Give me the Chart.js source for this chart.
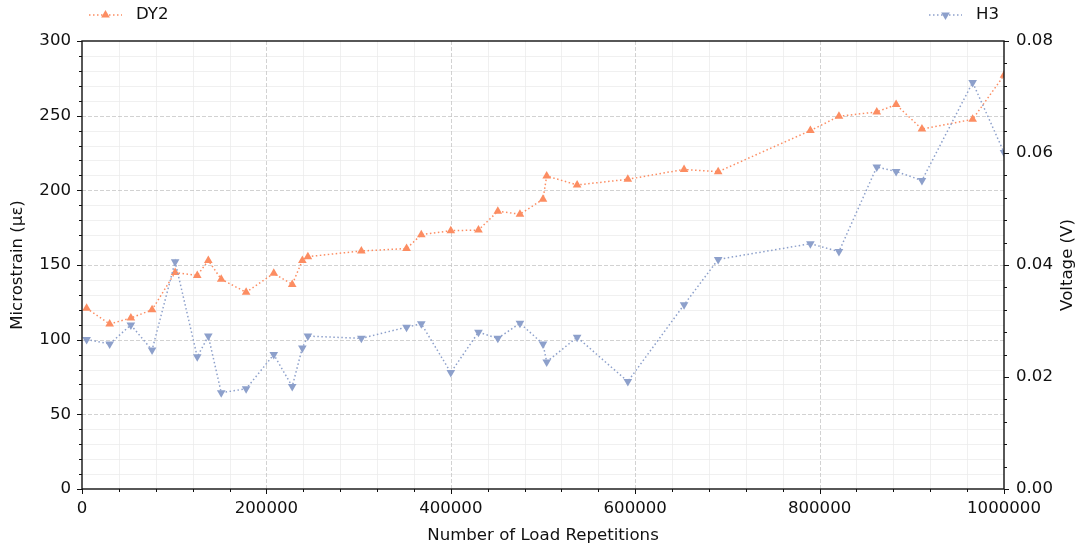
<!DOCTYPE html>
<html lang="en">
<head>
<meta charset="UTF-8">
<title>Microstrain and Voltage vs Load Repetitions</title>
<script src="https://cdn.jsdelivr.net/npm/chart.js"></script>
<style>
  html, body { margin: 0; padding: 0; background: #fff; }
  #wrap { width: 1078px; height: 548px; }
</style>
</head>
<body>
<div id="wrap"><canvas id="loadChart" width="1078" height="548"></canvas></div>
<script>
// Data
const repetitions = [5000, 30000, 53000, 76000, 101000, 125000, 137000, 151000, 178000, 208000,
  228000, 239000, 245000, 303000, 352000, 368000, 400000, 430000, 451000, 475000,
  500000, 504000, 537000, 592000, 653000, 690000, 790000, 821000, 862000, 883000,
  911000, 966000, 1000000];
const dy2Strain = [121, 110.5, 114.5, 120, 145, 143, 153, 140.5, 131.7, 144.4,
  137, 153, 155.6, 159.4, 161, 170.3, 173, 173.4, 186, 184,
  194, 209.6, 203.6, 207.4, 214, 212.5, 240, 249.6, 252.5, 257.4,
  241, 247.6, 277];
const h3Voltage = [0.0267, 0.0259, 0.0293, 0.0248, 0.0406, 0.0236, 0.0273, 0.0172, 0.0179, 0.0240,
  0.0183, 0.0252, 0.0273, 0.0269, 0.0289, 0.0295, 0.0208, 0.0280, 0.0269, 0.0296,
  0.0259, 0.0227, 0.0271, 0.0192, 0.0329, 0.0410, 0.0438, 0.0424, 0.0575, 0.0567,
  0.0551, 0.0726, 0.0601];

const ORANGE = '#fc8d62';
const BLUE = '#8da0cb';
const TEXT = '#111';
const FONT = { family: '"DejaVu Sans", sans-serif', size: 16.6 };

// grid, tick marks, frame, legends and the right-hand title
const decorations = {
  id: 'decorations',
  beforeDatasetsDraw(chart) {
    const { ctx, chartArea: a, scales: { x, y } } = chart;
    ctx.save();
    ctx.lineWidth = 0.8;
    // minor grid
    ctx.strokeStyle = '#ececec';
    for (let i = 0; i <= 25; i++) {
      if (i % 5 === 0) continue;
      const px = Math.round(x.getPixelForValue(i * 40000)) + 0.5;
      ctx.beginPath(); ctx.moveTo(px, a.top); ctx.lineTo(px, a.bottom); ctx.stroke();
    }
    for (let i = 0; i <= 30; i++) {
      if (i % 5 === 0) continue;
      const py = Math.round(y.getPixelForValue(i * 10)) + 0.5;
      ctx.beginPath(); ctx.moveTo(a.left, py); ctx.lineTo(a.right, py); ctx.stroke();
    }
    // major grid, dashed
    ctx.strokeStyle = '#c6c6c6';
    ctx.setLineDash([4, 2]);
    for (let i = 1; i < 5; i++) {
      const px = Math.round(x.getPixelForValue(i * 200000)) + 0.5;
      ctx.beginPath(); ctx.moveTo(px, a.top); ctx.lineTo(px, a.bottom); ctx.stroke();
    }
    for (let i = 1; i < 6; i++) {
      const py = Math.round(y.getPixelForValue(i * 50)) + 0.5;
      ctx.beginPath(); ctx.moveTo(a.left, py); ctx.lineTo(a.right, py); ctx.stroke();
    }
    ctx.restore();
  },
  afterDraw(chart) {
    const { ctx, chartArea: a, scales: { x, y, y1 } } = chart;
    ctx.save();
    // frame
    ctx.strokeStyle = '#111';
    ctx.lineWidth = 1.4;
    ctx.strokeRect(a.left, a.top, a.right - a.left, a.bottom - a.top);
    // tick marks
    ctx.lineWidth = 1;
    for (let i = 0; i <= 25; i++) {
      const px = Math.round(x.getPixelForValue(i * 40000)) + 0.5;
      const len = i % 5 === 0 ? 5 : 3;
      ctx.beginPath(); ctx.moveTo(px, a.bottom); ctx.lineTo(px, a.bottom + len); ctx.stroke();
    }
    for (let i = 0; i <= 30; i++) {
      const py = Math.round(y.getPixelForValue(i * 10)) + 0.5;
      const len = i % 5 === 0 ? 5 : 3;
      ctx.beginPath(); ctx.moveTo(a.left, py); ctx.lineTo(a.left - len, py); ctx.stroke();
    }
    for (let i = 0; i <= 20; i++) {
      const py = Math.round(y1.getPixelForValue(i * 0.004)) + 0.5;
      const len = i % 5 === 0 ? 5 : 3;
      ctx.beginPath(); ctx.moveTo(a.right, py); ctx.lineTo(a.right + len, py); ctx.stroke();
    }
    // right axis title, reading upwards
    ctx.fillStyle = TEXT;
    ctx.font = '16.6px "DejaVu Sans", sans-serif';
    ctx.textAlign = 'center';
    ctx.textBaseline = 'middle';
    ctx.save();
    ctx.translate(1068, (a.top + a.bottom) / 2);
    ctx.rotate(-Math.PI / 2);
    ctx.fillText('Voltage (V)', 0, 0);
    ctx.restore();
    // legends
    const legendItem = (x0, label, color, rot) => {
      const ly = 15;
      ctx.strokeStyle = color;
      ctx.lineWidth = 1.5;
      ctx.setLineDash([1.5, 2.5]);
      ctx.beginPath(); ctx.moveTo(x0, ly); ctx.lineTo(x0 + 33, ly); ctx.stroke();
      ctx.setLineDash([]);
      ctx.fillStyle = color;
      ctx.save();
      ctx.translate(x0 + 16.5, ly);
      ctx.rotate(rot);
      ctx.beginPath();
      for (let k = 0; k < 3; k++) {
        const ang = k * 2 * Math.PI / 3;
        ctx.lineTo(Math.sin(ang) * 5, -Math.cos(ang) * 5);
      }
      ctx.closePath(); ctx.fill();
      ctx.restore();
      ctx.fillStyle = TEXT;
      ctx.textAlign = 'left';
      ctx.fillText(label, x0 + 47, ly);
    };
    legendItem(89, 'DY2', ORANGE, 0);
    legendItem(929, 'H3', BLUE, Math.PI);
    ctx.restore();
  }
};

const ctx = document.getElementById('loadChart').getContext('2d');
const loadChart = new Chart(ctx, {
  type: 'line',
  data: {
    datasets: [
      {
        label: 'H3',
        data: repetitions.map((r, i) => ({ x: r, y: h3Voltage[i] })),
        yAxisID: 'y1',
        borderColor: BLUE,
        backgroundColor: BLUE,
        borderWidth: 1.5,
        borderDash: [1.5, 2.5],
        pointStyle: 'triangle',
        pointRotation: 180,
        pointRadius: 5,
        pointBorderWidth: 0,
        fill: false,
        tension: 0
      },
      {
        label: 'DY2',
        data: repetitions.map((r, i) => ({ x: r, y: dy2Strain[i] })),
        yAxisID: 'y',
        borderColor: ORANGE,
        backgroundColor: ORANGE,
        borderWidth: 1.5,
        borderDash: [1.5, 2.5],
        pointStyle: 'triangle',
        pointRadius: 5,
        pointBorderWidth: 0,
        fill: false,
        tension: 0
      }
    ]
  },
  options: {
    responsive: false,
    animation: false,
    layout: { padding: { top: 41, left: 0, right: 0, bottom: 0 } },
    plugins: { legend: { display: false }, tooltip: { enabled: false } },
    scales: {
      x: {
        type: 'linear', position: 'bottom', min: 0, max: 1000000,
        afterFit: s => { s.height = 59; },
        grid: { display: false, drawTicks: false },
        border: { display: false },
        ticks: { stepSize: 200000, padding: 10, maxRotation: 0, color: TEXT, font: FONT,
                 callback: v => String(v) },
        title: { display: true, text: 'Number of Load Repetitions', color: TEXT, font: FONT,
                 padding: { top: 0, bottom: 2 } }
      },
      y: {
        position: 'left', min: 0, max: 300,
        afterFit: s => { s.width = 82; },
        grid: { display: false, drawTicks: false },
        border: { display: false },
        ticks: { stepSize: 50, padding: 11, color: TEXT, font: FONT },
        title: { display: true, text: 'Microstrain (με)', color: TEXT, font: FONT,
                 padding: { top: 8, bottom: 0 } }
      },
      y1: {
        position: 'right', min: 0, max: 0.08,
        afterFit: s => { s.width = 74; },
        grid: { display: false, drawTicks: false },
        border: { display: false },
        ticks: { stepSize: 0.02, padding: 12, color: TEXT, font: FONT,
                 callback: v => v.toFixed(2) },
        title: { display: false }
      }
    }
  },
  plugins: [decorations]
});
</script>
</body>
</html>
